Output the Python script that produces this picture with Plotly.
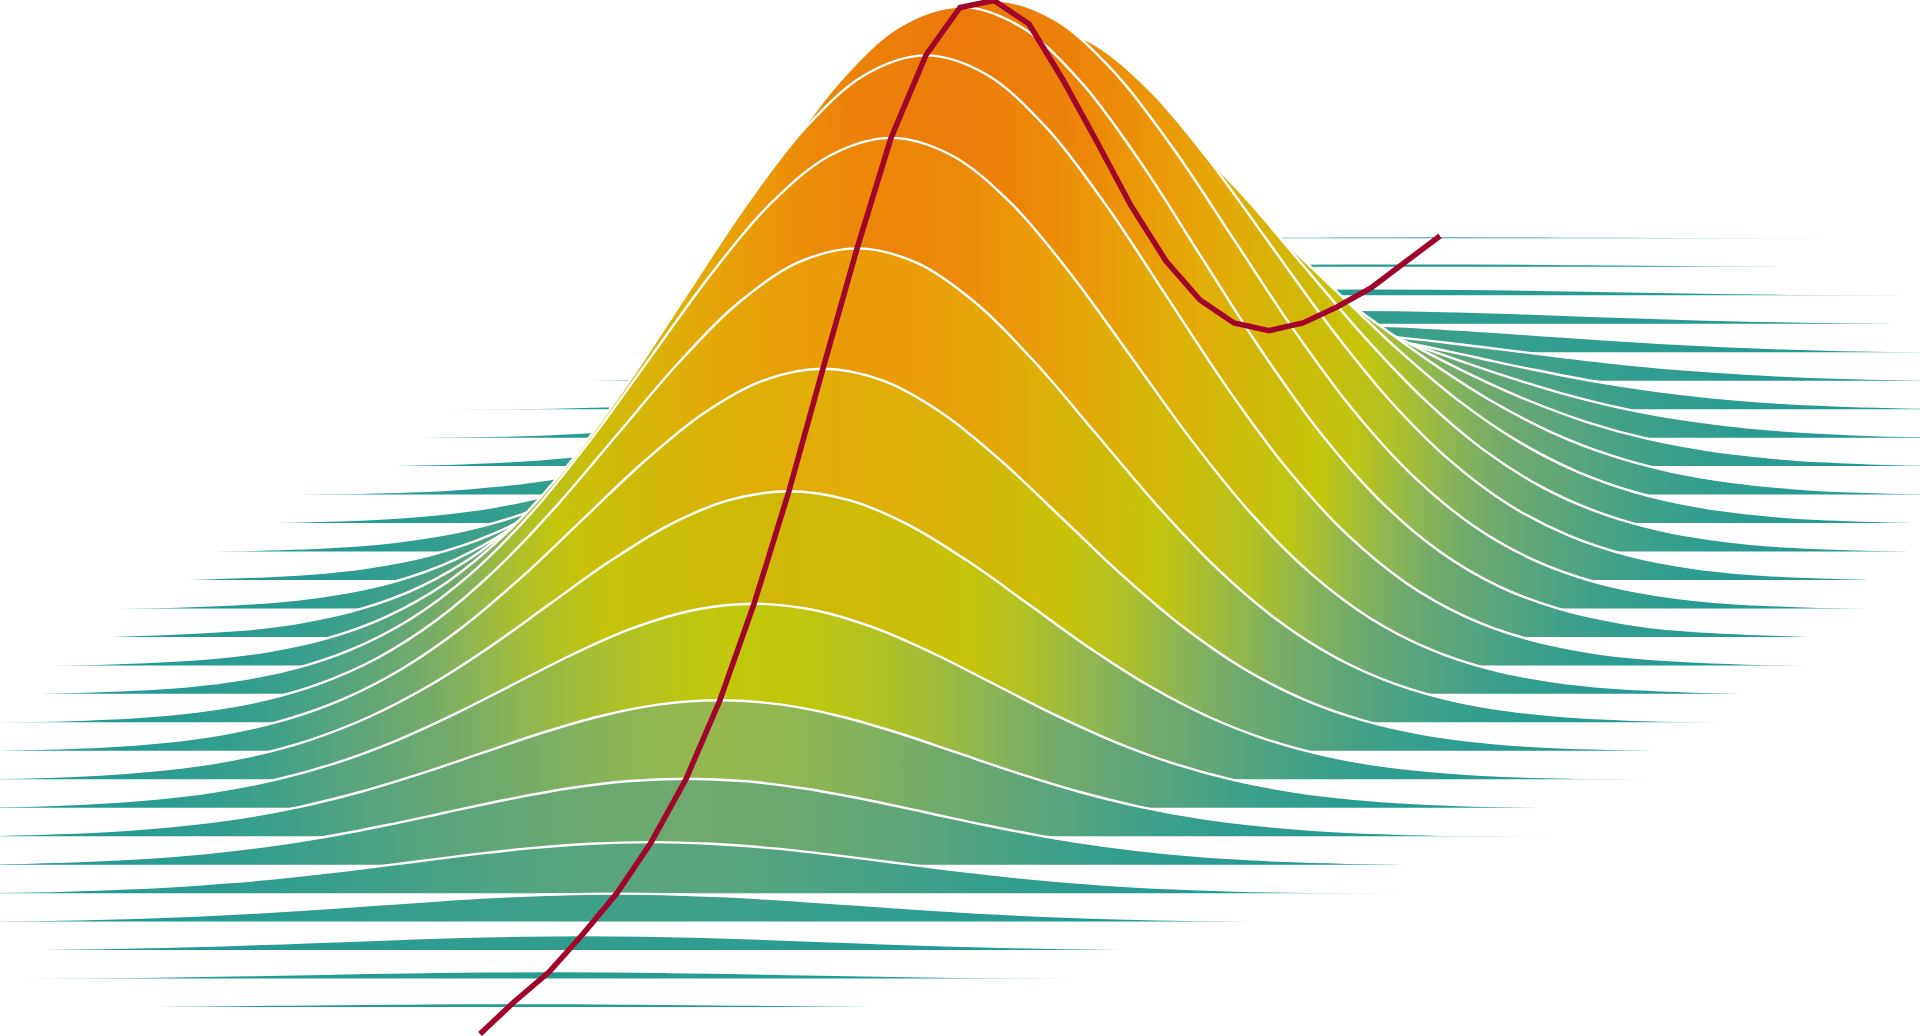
import plotly.graph_objects as go

offsets = [-960,-840,-720,-660,-600,-540,-480,-420,-360,-300,-240,-180,-120,-60,0,60,120,180,240,300,360,420,480,540,600,660,720,840,960]
peak_x = [514,549,583,617,651,686,720,754,789,823,857,891,926,960,994,1029,1063,1097,1131,1166,1200,1234,1269,1303,1337,1371,1406,1440]

r01 = [0,0,0,0.1,0.2,0.3,0.5,0.9,1.3,1.8,2.4,3,3.5,3.9,4,3.9,3.5,3,2.4,1.8,1.3,0.9,0.5,0.3,0.2,0.1,0,0,0]
r02 = [0,0,0.1,0.2,0.3,0.6,1,1.6,2.4,3.4,4.5,5.7,6.6,7.3,7.5,7.3,6.6,5.7,4.5,3.4,2.4,1.6,1,0.6,0.3,0.2,0.1,0,0]
r03 = [0,0,0.2,0.3,0.7,1.2,2,3.2,4.9,6.9,9.1,11.3,13.2,14.5,15,14.5,13.2,11.3,9.1,6.9,4.9,3.2,2,1.2,0.7,0.3,0.2,0,0]
r04 = [0,0.1,0.3,0.6,1.2,2.2,3.8,6.1,9.1,12.8,17,21.1,24.7,27.1,28,27.1,24.7,21.1,17,12.8,9.1,6.1,3.8,2.2,1.2,0.6,0.3,0.1,0]
r05 = [0,0.1,0.6,1.2,2.2,4.1,6.9,11,16.6,23.3,30.9,38.5,45,49.4,51,49.4,45,38.5,30.9,23.3,16.6,11,6.9,4.1,2.2,1.2,0.6,0.1,0]
r06 = [0,0.2,1,2,3.8,6.8,11.6,18.6,27.9,39.4,52.2,64.9,75.9,83.4,86,83.4,75.9,64.9,52.2,39.4,27.9,18.6,11.6,6.8,3.8,2,1,0.2,0]
r07 = [0,0.3,1.5,3.1,6,10.8,18.4,29.4,44.2,62.3,82.5,102.7,120,131.8,136,131.8,120,102.7,82.5,62.3,44.2,29.4,18.4,10.8,6,3.1,1.5,0.3,0]
r08 = [0.1,0.4,2.3,4.7,9,16.2,27.6,44.1,66.2,93.4,123.7,154,180,197.7,204,197.7,180,154,123.7,93.4,66.2,44.1,27.6,16.2,9,4.7,2.3,0.4,0.1]
r09 = [0.1,0.6,3.2,6.6,12.6,22.9,39,62.3,93.5,131.8,174.7,217.4,254.2,279.1,288,279.1,254.2,217.4,174.7,131.8,93.5,62.3,39,22.9,12.6,6.6,3.2,0.6,0.1]
r10 = [0.1,0.8,4.2,8.7,16.8,30.4,51.7,82.6,124,174.9,231.7,288.3,337.1,370.2,382,370.2,337.1,288.3,231.7,174.9,124,82.6,51.7,30.4,16.8,8.7,4.2,0.8,0.1]
r11 = [0.2,1,5.3,10.8,20.8,37.7,64.1,102.5,153.9,217,287.5,357.8,418.3,459.4,474,459.4,418.3,357.8,287.5,217,153.9,102.5,64.1,37.7,20.8,10.8,5.3,1,0.2]
r12 = [0.2,1.2,6.2,12.7,24.4,44.3,75.2,120.3,180.5,254.5,337.2,419.7,490.7,538.9,556,538.9,490.7,419.7,337.2,254.5,180.5,120.3,75.2,44.3,24.4,12.7,6.2,1.2,0.2]
r13 = [0.2,1.3,6.8,13.9,26.8,48.6,82.5,131.9,198.1,279.3,370,460.4,538.3,591.2,610,591.2,538.3,460.4,370,279.3,198.1,131.9,82.5,48.6,26.8,13.9,6.8,1.3,0.2]
r14 = [0.2,1.4,7,14.4,27.7,50.1,85.2,136.3,204.6,288.4,382.1,475.5,556,610.6,630,610.6,556,475.5,382.1,288.4,204.6,136.3,85.2,50.1,27.7,14.4,7,1.4,0.2]
r15 = [0.2,1.3,6.7,13.9,26.7,48.4,82.3,131.5,197.4,278.3,368.8,458.9,536.6,589.3,608,589.3,536.6,458.9,368.8,278.3,197.4,131.5,82.3,48.4,26.7,13.9,6.7,1.3,0.2]
r16 = [0.2,1.2,6.2,12.7,24.4,44.3,75.2,120.3,180.5,254.5,337.2,419.7,490.7,538.9,556,538.9,490.7,419.7,337.2,254.5,180.5,120.3,75.2,44.3,24.4,12.7,6.2,1.2,0.2]
r17 = [0.2,1,5.2,10.8,20.7,37.6,63.9,102.1,153.3,216.1,286.3,356.3,416.5,457.5,472,457.5,416.5,356.3,286.3,216.1,153.3,102.1,63.9,37.6,20.7,10.8,5.2,1,0.2]
r18 = [0.1,0.8,4.2,8.7,16.7,30.3,51.5,82.4,123.7,174.4,231.1,287.6,336.2,369.3,381,369.3,336.2,287.6,231.1,174.4,123.7,82.4,51.5,30.3,16.7,8.7,4.2,0.8,0.1]
r19 = [0.1,0.6,3.2,6.6,12.7,23,39.1,62.5,93.8,132.3,175.3,218.1,255,280.1,289,280.1,255,218.1,175.3,132.3,93.8,62.5,39.1,23,12.7,6.6,3.2,0.6,0.1]
r20 = [0.1,0.4,2.3,4.7,9,16.3,27.7,44.3,66.6,93.8,124.3,154.7,180.9,198.7,205,198.7,180.9,154.7,124.3,93.8,66.6,44.3,27.7,16.3,9,4.7,2.3,0.4,0.1]
r21 = [0,0.3,1.5,3.1,6.1,11,18.7,29.8,44.8,63.2,83.7,104.2,121.8,133.7,138,133.7,121.8,104.2,83.7,63.2,44.8,29.8,18.7,11,6.1,3.1,1.5,0.3,0]
r22 = [0,0.2,1,2,3.8,6.8,11.6,18.6,27.9,39.4,52.2,64.9,75.9,83.4,86,83.4,75.9,64.9,52.2,39.4,27.9,18.6,11.6,6.8,3.8,2,1,0.2,0]
r23 = [0,0.1,0.6,1.1,2.2,4,6.8,10.8,16.2,22.9,30.3,37.7,44.1,48.5,50,48.5,44.1,37.7,30.3,22.9,16.2,10.8,6.8,4,2.2,1.1,0.6,0.1,0]
r24 = [0,0.1,0.3,0.6,1.2,2.2,3.8,6.1,9.1,12.8,17,21.1,24.7,27.1,28,27.1,24.7,21.1,17,12.8,9.1,6.1,3.8,2.2,1.2,0.6,0.3,0.1,0]
r25 = [0,0,0.2,0.3,0.6,1.1,1.9,3,4.5,6.4,8.5,10.6,12.4,13.6,14,13.6,12.4,10.6,8.5,6.4,4.5,3,1.9,1.1,0.6,0.3,0.2,0,0]
r26 = [0,0,0.1,0.2,0.3,0.6,0.9,1.5,2.3,3.2,4.2,5.3,6.2,6.8,7,6.8,6.2,5.3,4.2,3.2,2.3,1.5,0.9,0.6,0.3,0.2,0.1,0,0]
r27 = [0,0,0,0.1,0.2,0.3,0.5,0.8,1.2,1.6,2.2,2.7,3.2,3.5,3.6,3.5,3.2,2.7,2.2,1.6,1.2,0.8,0.5,0.3,0.2,0.1,0,0,0]
r28 = [0,0,0,0.1,0.1,0.2,0.3,0.5,0.7,1,1.3,1.7,1.9,2.1,2.2,2.1,1.9,1.7,1.3,1,0.7,0.5,0.3,0.2,0.1,0.1,0,0,0]
ridges = [r01,r02,r03,r04,r05,r06,r07,r08,r09,r10,r11,r12,r13,r14,r15,r16,r17,r18,r19,r20,r21,r22,r23,r24,r25,r26,r27,r28]

red_x = [480,514,549,583,617,651,686,720,754,789,823,857,891,926,960,994,1029,1063,1097,1131,1166,1200,1234,1269,1303,1337,1371,1406,1440]
red_y = [2,34,64,102,143,193.5,257,336,432,545,667.4,787.4,898,981,1028.5,1035.5,1012,956,894,830.3,775,736,713,705.4,713,729,748,774.5,800]

height_stops = [0,50,86,136,204,288,382,474,556,630]
color_stops = [(33,154,150),(88,165,125),(110,169,110),(149,184,78),(194,200,10),(208,184,8),(227,172,8),(235,154,8),(236,133,8),(235,122,10)]

ROW_STEP = 28.47
ROW_ZERO = 0.5

def height_color(h):
    for j in range(len(height_stops) - 1):
        if h <= height_stops[j + 1]:
            t = (h - height_stops[j]) / (height_stops[j + 1] - height_stops[j])
            a, b = color_stops[j], color_stops[j + 1]
            return "rgb(%d,%d,%d)" % tuple(round(a[k] + (b[k] - a[k]) * t) for k in range(3))
    return "rgb(%d,%d,%d)" % color_stops[-1]

span = offsets[-1] - offsets[0]
fig = go.Figure()
for row in range(len(ridges), 0, -1):
    heights = ridges[row - 1]
    base = ROW_ZERO + ROW_STEP * row
    xs = [peak_x[row - 1] + o for o in offsets]
    fig.add_trace(go.Scatter(x=xs, y=[base] * len(xs), mode="lines",
                             line=dict(width=0, color="rgba(0,0,0,0)"),
                             hoverinfo="skip", showlegend=False))
    fig.add_trace(go.Scatter(
        x=xs, y=[base + h for h in heights], mode="lines",
        line=dict(color="white", width=2.4, shape="spline", smoothing=1, simplify=False),
        fill="tonexty",
        fillgradient=dict(type="horizontal", start=xs[0], stop=xs[-1],
                          colorscale=[[(o - offsets[0]) / span, height_color(h)] for o, h in zip(offsets, heights)]),
        hoverinfo="skip", showlegend=False))

fig.add_trace(go.Scatter(x=red_x, y=red_y, mode="lines",
                         line=dict(color="#a1052b", width=5.5, simplify=False),
                         hoverinfo="skip", showlegend=False))

fig.update_layout(width=1920, height=1036, margin=dict(l=0, r=0, t=0, b=0, pad=0),
                  paper_bgcolor="white", plot_bgcolor="white",
                  xaxis=dict(range=[0, 1920], visible=False, fixedrange=True),
                  yaxis=dict(range=[0, 1036], visible=False, fixedrange=True))

fig.write_html("out.html", config=dict(displayModeBar=False),
               post_script="document.body.style.margin='0';document.body.style.overflow='hidden';")
